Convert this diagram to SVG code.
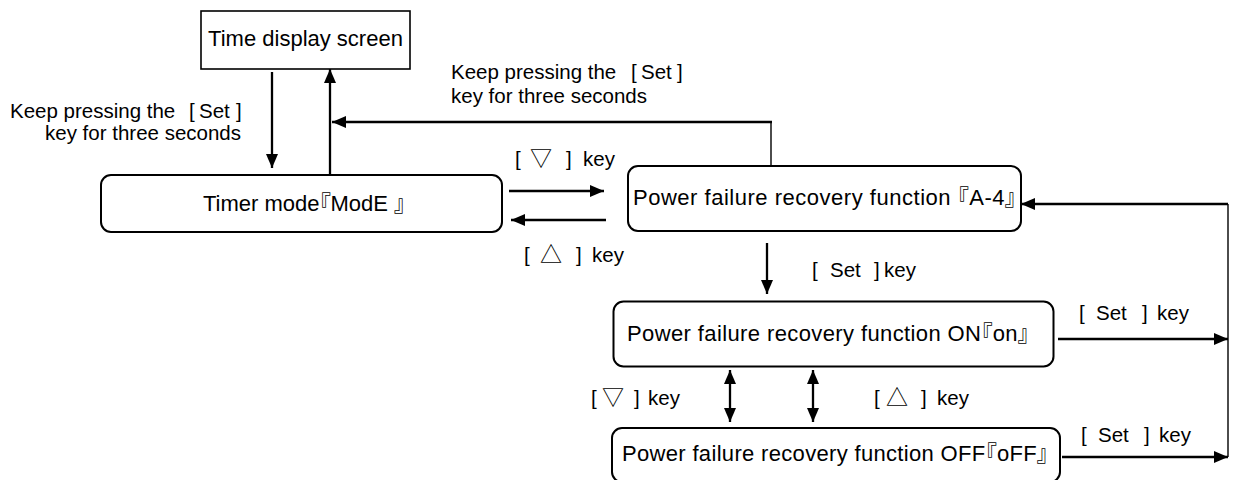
<svg xmlns="http://www.w3.org/2000/svg" width="1239" height="480" viewBox="0 0 1239 480">
<defs>
<style>
text{font-family:"Liberation Sans","Noto Sans CJK JP",sans-serif;fill:#000}
.n{font-size:22px;font-feature-settings:"palt"}
.l{font-size:20.5px}
.tri{font-size:22px}
.box{fill:#fff;stroke:#000;stroke-width:2}
.c{fill:none;stroke:#000;stroke-width:2.3}
.t{fill:none;stroke:#000;stroke-width:1.4}
</style>
<marker id="ah" viewBox="0 0 14 12" refX="14" refY="6" markerWidth="14" markerHeight="12" markerUnits="userSpaceOnUse" orient="auto-start-reverse">
<path d="M0,0 L14,6 L0,12 z" fill="#000"/>
</marker>
</defs>
<rect width="1239" height="480" fill="#fff"/>
<g id="connectors">
<line class="c" x1="272" y1="72" x2="272" y2="168" marker-end="url(#ah)"/>
<line class="c" x1="330" y1="175" x2="330" y2="69" marker-end="url(#ah)"/>
<line class="t" x1="771" y1="166" x2="771" y2="122"/>
<line class="c" x1="772" y1="122" x2="332" y2="122" marker-end="url(#ah)"/>
<line class="c" x1="509" y1="191" x2="604" y2="191" marker-end="url(#ah)"/>
<line class="c" x1="606" y1="220" x2="511" y2="220" marker-end="url(#ah)"/>
<line class="c" x1="767" y1="243" x2="767" y2="294" marker-end="url(#ah)"/>
<line class="c" x1="730" y1="370" x2="730" y2="422" marker-start="url(#ah)" marker-end="url(#ah)"/>
<line class="c" x1="813" y1="370" x2="813" y2="422" marker-start="url(#ah)" marker-end="url(#ah)"/>
<line class="c" x1="1058" y1="339" x2="1228" y2="339" marker-end="url(#ah)"/>
<line class="c" x1="1062" y1="457" x2="1228" y2="457" marker-end="url(#ah)"/>
<line class="t" x1="1228" y1="457" x2="1228" y2="204"/>
<line class="c" x1="1228" y1="204" x2="1021" y2="204" marker-end="url(#ah)"/>
<text class="l" y="118"><tspan x="10">Keep pressing the </tspan><tspan x="189">[ </tspan><tspan x="199">Set </tspan><tspan x="236">]</tspan></text>
<text class="l" x="45" y="140">key for three seconds</text>
<text class="l" y="79"><tspan x="451">Keep pressing the </tspan><tspan x="631">[ </tspan><tspan x="641">Set </tspan><tspan x="677">]</tspan></text>
<text class="l" x="451" y="103">key for three seconds</text>
<text class="l" y="166"><tspan x="515">[ </tspan><tspan class="tri" x="530">▽ </tspan><tspan x="566">] </tspan><tspan x="583">key</tspan></text>
<text class="l" y="262"><tspan x="524">[ </tspan><tspan class="tri" x="540">△ </tspan><tspan x="576">] </tspan><tspan x="592">key</tspan></text>
<text class="l" y="277"><tspan x="812">[ </tspan><tspan x="830">Set </tspan><tspan x="874">]</tspan><tspan x="884">key</tspan></text>
<text class="l" y="320"><tspan x="1079">[ </tspan><tspan x="1096">Set </tspan><tspan x="1142">] </tspan><tspan x="1157">key</tspan></text>
<text class="l" y="442"><tspan x="1081">[ </tspan><tspan x="1098">Set </tspan><tspan x="1144">] </tspan><tspan x="1159">key</tspan></text>
<text class="l" y="405"><tspan x="591">[ </tspan><tspan class="tri" x="602">▽ </tspan><tspan x="634">] </tspan><tspan x="648">key</tspan></text>
<text class="l" y="405"><tspan x="874">[ </tspan><tspan class="tri" x="886">△ </tspan><tspan x="921">] </tspan><tspan x="937">key</tspan></text>
</g>
<g id="time-display">
<rect x="201" y="11" width="209" height="58" fill="#fff" stroke="#000" stroke-width="1.6"/>
<text class="n" x="305.5" y="46" text-anchor="middle">Time display screen</text>
</g>
<g id="timer-mode">
<rect class="box" x="101" y="175" width="401" height="57" rx="10"/>
<text class="n" x="304" y="211" text-anchor="middle">Timer mode『ModE 』</text>
</g>
<g id="a4">
<rect class="box" x="628" y="166" width="393" height="65" rx="10"/>
<text class="n" x="633" y="205" textLength="383" lengthAdjust="spacing">Power failure recovery function 『A-4』</text>
</g>
<g id="on">
<rect class="box" x="613.5" y="301.5" width="440" height="65" rx="10"/>
<text class="n" x="627" y="341" textLength="402" lengthAdjust="spacing">Power failure recovery function ON『on』</text>
</g>
<g id="off">
<rect class="box" x="612" y="428" width="448" height="54" rx="10"/>
<text class="n" x="622" y="461" textLength="426" lengthAdjust="spacing">Power failure recovery function OFF『oFF』</text>
</g>
</svg>
